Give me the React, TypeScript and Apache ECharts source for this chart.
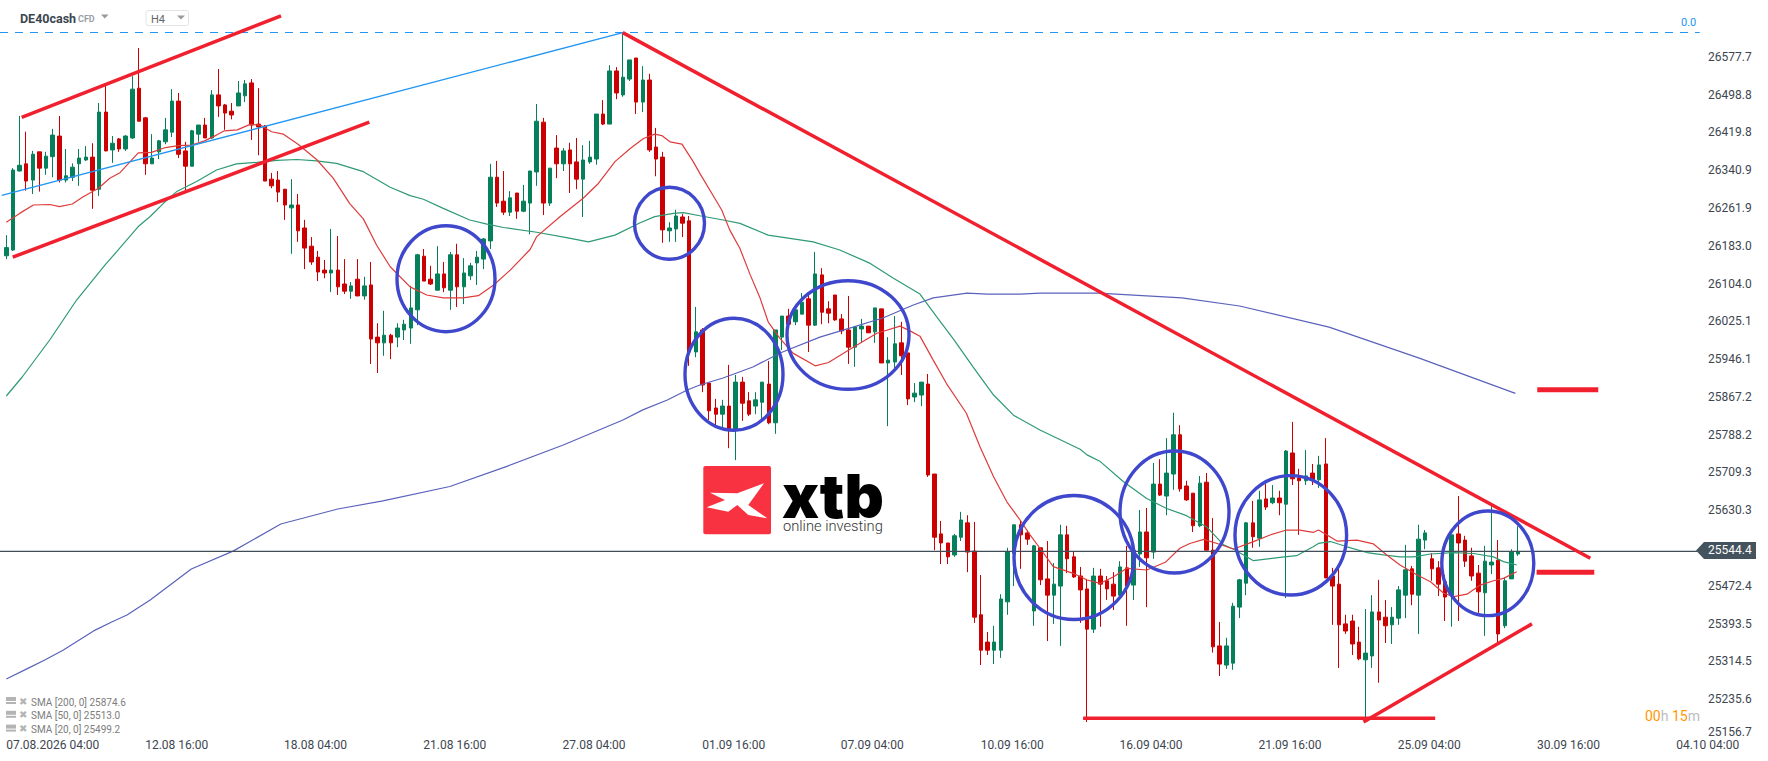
import React, { useEffect, useRef } from 'react';
import * as echarts from 'echarts';

// H4 candles, oldest first
const opens = [
  26162, 26174, 26339, 26354, 26320, 26379, 26345, 26369, 26412, 26320, 26326, 26354, 26362, 26368, 26301, 26462, 26383, 26406, 26385, 26408,
  26512, 26450, 26354, 26379, 26400, 26420, 26485, 26381, 26349, 26416, 26435, 26408, 26498, 26477, 26464, 26475, 26496, 26523, 26437, 26433,
  26322, 26320, 26301, 26262, 26268, 26220, 26182, 26159, 26132, 26126, 26132, 26103, 26088, 26113, 26078, 26101, 25992, 25980, 25996, 25992,
  26007, 26011, 26049, 26161, 26113, 26090, 26124, 26090, 26164, 26097, 26120, 26147, 26155, 26193, 26326, 26276, 26253, 26293, 26255, 26272,
  26337, 26441, 26272, 26387, 26354, 26383, 26358, 26322, 26358, 26364, 26458, 26437, 26548, 26498, 26531, 26575, 26483, 26529, 26389, 26368,
  26214, 26218, 26243, 26235, 25961, 26007, 25896, 25844, 25831, 25848, 25798, 25898, 25859, 25848, 25856, 25894, 25813, 25992, 26036, 26024,
  26040, 26072, 26017, 26122, 26051, 26080, 26030, 26007, 25971, 26009, 26015, 26003, 26051, 25938, 25940, 25980, 25959, 25867, 25871, 25894,
  25706, 25581, 25562, 25537, 25574, 25604, 25545, 25412, 25355, 25338, 25338, 25439, 25540, 25600, 25583, 25420, 25552, 25487, 25453, 25472,
  25579, 25533, 25493, 25466, 25382, 25493, 25483, 25476, 25453, 25510, 25474, 25539, 25585, 25543, 25685, 25660, 25706, 25788, 25681, 25666,
  25598, 25689, 25547, 25347, 25307, 25311, 25428, 25478, 25604, 25572, 25654, 25646, 25656, 25643, 25750, 25698, 25692, 25708, 25694, 25727,
  25493, 25476, 25393, 25399, 25355, 25318, 25326, 25418, 25407, 25391, 25405, 25453, 25508, 25453, 25568, 25529, 25510, 25481, 25453, 25581,
  25568, 25535, 25499, 25458, 25516, 25526, 25389, 25487, 25539,
];
const closes = [
  26179, 26341, 26351, 26318, 26374, 26345, 26370, 26414, 26320, 26329, 26347, 26366, 26368, 26299, 26462, 26381, 26397, 26385, 26412, 26510,
  26443, 26354, 26366, 26402, 26425, 26485, 26374, 26349, 26423, 26435, 26408, 26498, 26475, 26460, 26456, 26502, 26521, 26435, 26431, 26318,
  26308, 26295, 26268, 26268, 26214, 26178, 26149, 26128, 26126, 26132, 26097, 26088, 26099, 26078, 26099, 25988, 25980, 25996, 25980, 26011,
  26019, 26053, 26164, 26109, 26103, 26124, 26095, 26164, 26097, 26126, 26141, 26159, 26197, 26326, 26272, 26253, 26283, 26255, 26276, 26339,
  26443, 26272, 26345, 26354, 26381, 26354, 26322, 26362, 26368, 26458, 26437, 26548, 26502, 26535, 26571, 26483, 26529, 26383, 26364, 26216,
  26220, 26245, 26230, 25961, 26003, 25892, 25838, 25831, 25848, 25800, 25898, 25854, 25831, 25861, 25898, 25813, 26007, 26036, 26019, 26049,
  26065, 26017, 26124, 26044, 26042, 26028, 26005, 25971, 26013, 26015, 26001, 26053, 25938, 25944, 25978, 25953, 25863, 25875, 25898, 25704,
  25574, 25562, 25533, 25577, 25610, 25543, 25407, 25338, 25338, 25355, 25445, 25543, 25600, 25579, 25570, 25556, 25485, 25453, 25476, 25579,
  25529, 25491, 25464, 25382, 25493, 25476, 25466, 25451, 25512, 25472, 25547, 25585, 25531, 25685, 25662, 25708, 25788, 25675, 25652, 25598,
  25687, 25547, 25345, 25309, 25347, 25430, 25485, 25604, 25575, 25652, 25637, 25656, 25646, 25754, 25696, 25692, 25702, 25694, 25725, 25489,
  25472, 25391, 25378, 25351, 25320, 25332, 25418, 25401, 25389, 25407, 25464, 25506, 25455, 25570, 25583, 25508, 25476, 25449, 25579, 25562,
  25524, 25493, 25460, 25524, 25522, 25372, 25483, 25543, 25544.4,
];
const lows = [
  26155, 26172, 26338, 26298, 26291, 26296, 26331, 26326, 26315, 26315, 26318, 26308, 26360, 26260, 26287, 26380, 26356, 26379, 26381, 26406,
  26443, 26331, 26354, 26364, 26395, 26410, 26366, 26299, 26349, 26400, 26408, 26406, 26452, 26425, 26447, 26475, 26483, 26404, 26372, 26318,
  26303, 26274, 26237, 26166, 26191, 26134, 26143, 26109, 26115, 26086, 26080, 26082, 26072, 26078, 26070, 25936, 25917, 25953, 25946, 25971,
  25986, 25978, 26017, 26109, 26101, 26090, 26086, 26049, 26055, 26061, 26111, 26101, 26134, 26176, 26264, 26247, 26245, 26239, 26253, 26207,
  26308, 26247, 26266, 26324, 26339, 26293, 26301, 26243, 26354, 26352, 26435, 26437, 26489, 26494, 26527, 26458, 26462, 26379, 26328, 26189,
  26191, 26191, 26201, 25932, 25950, 25877, 25819, 25806, 25804, 25760, 25735, 25817, 25827, 25831, 25819, 25810, 25790, 25965, 26019, 26017,
  26040, 25961, 26015, 26019, 26021, 26026, 25998, 25936, 25930, 25980, 26001, 25980, 25938, 25806, 25921, 25913, 25850, 25856, 25848, 25700,
  25547, 25518, 25518, 25533, 25566, 25501, 25395, 25307, 25328, 25309, 25322, 25412, 25472, 25508, 25558, 25389, 25474, 25357, 25393, 25347,
  25499, 25489, 25395, 25188, 25374, 25387, 25443, 25422, 25451, 25389, 25443, 25512, 25428, 25529, 25660, 25620, 25673, 25669, 25650, 25585,
  25595, 25547, 25333, 25284, 25299, 25297, 25405, 25453, 25552, 25554, 25631, 25643, 25620, 25447, 25683, 25579, 25683, 25683, 25677, 25489,
  25391, 25301, 25372, 25328, 25317, 25188, 25301, 25270, 25353, 25351, 25391, 25405, 25432, 25372, 25549, 25483, 25451, 25399, 25387, 25399,
  25512, 25483, 25416, 25368, 25497, 25355, 25384, 25487, 25535,
];
const highs = [
  26205, 26345, 26454, 26421, 26381, 26379, 26379, 26427, 26454, 26385, 26355, 26385, 26391, 26397, 26481, 26519, 26412, 26408, 26414, 26537,
  26596, 26452, 26416, 26404, 26450, 26510, 26502, 26400, 26425, 26435, 26450, 26508, 26552, 26479, 26481, 26527, 26529, 26531, 26512, 26435,
  26335, 26339, 26301, 26322, 26291, 26237, 26201, 26172, 26153, 26218, 26203, 26155, 26107, 26155, 26118, 26149, 26021, 26047, 25999, 26021,
  26028, 26099, 26166, 26176, 26141, 26182, 26149, 26170, 26187, 26157, 26147, 26172, 26199, 26354, 26360, 26339, 26297, 26293, 26310, 26339,
  26479, 26450, 26345, 26414, 26387, 26398, 26408, 26393, 26402, 26458, 26487, 26560, 26556, 26628, 26571, 26575, 26558, 26542, 26429, 26379,
  26232, 26258, 26249, 26245, 26055, 26011, 25896, 25863, 25861, 25934, 25913, 25909, 25877, 25877, 25898, 25942, 26007, 26036, 26051, 26055,
  26084, 26082, 26170, 26136, 26067, 26080, 26040, 26078, 26015, 26030, 26015, 26053, 26051, 25992, 26036, 26024, 25959, 25896, 25898, 25915,
  25706, 25608, 25562, 25581, 25627, 25620, 25606, 25495, 25376, 25389, 25455, 25552, 25600, 25610, 25589, 25558, 25552, 25566, 25520, 25600,
  25598, 25545, 25512, 25487, 25510, 25508, 25493, 25501, 25524, 25556, 25547, 25631, 25635, 25729, 25737, 25781, 25834, 25808, 25692, 25666,
  25702, 25708, 25614, 25397, 25364, 25437, 25487, 25606, 25650, 25671, 25685, 25683, 25671, 25756, 25815, 25717, 25756, 25727, 25744, 25781,
  25510, 25508, 25412, 25412, 25387, 25424, 25453, 25485, 25443, 25428, 25472, 25558, 25514, 25600, 25589, 25541, 25524, 25495, 25579, 25660,
  25577, 25552, 25516, 25556, 25641, 25568, 25489, 25549, 25597,
];

// moving averages as [candle index, price]
const sma20 = [
  [0, 26232], [2.07, 26251], [4.08, 26268], [6.6, 26269], [8, 26264.5], [9.96, 26270], [11.6, 26285], [13.9, 26303], [15.6, 26324], [17.15, 26335.5],
  [19.9, 26377], [21.9, 26378], [24, 26388], [25.95, 26392], [27.96, 26393], [29.9, 26402], [31.7, 26414], [32.9, 26423], [34.85, 26425], [36.76, 26436.5],
  [38.3, 26435], [40, 26421], [41.8, 26416], [44, 26395], [46.8, 26363], [49.3, 26324], [51.8, 26271], [53.85, 26239], [55.86, 26184], [57.9, 26139],
  [60.9, 26097], [63.4, 26080], [65.9, 26074], [68.9, 26074], [71.2, 26078.6], [73.5, 26101], [76, 26132], [79, 26175], [80, 26202], [83.5, 26243.6],
  [87, 26282], [89.3, 26313], [91.8, 26358.5], [94.1, 26386], [96.1, 26407], [97.8, 26416], [98.85, 26413], [100.1, 26400], [101.9, 26395], [103.6, 26358.5],
  [104.6, 26334], [107.9, 26257.5], [109.1, 26216], [110.65, 26177], [112.2, 26122], [113.7, 26073], [114.9, 26024], [116.7, 25989], [118.7, 25958], [122, 25932],
  [124, 25939], [126.7, 25962], [128.75, 25979], [131.3, 26000], [134.8, 26015], [136.3, 26005], [137.8, 25994], [139.8, 25944], [141.8, 25895], [144.8, 25833],
  [146.85, 25763], [148.9, 25700.5], [150.9, 25648], [152.9, 25610], [154.4, 25579], [155.9, 25551], [157.9, 25512.5], [160.9, 25498.6], [163, 25484.7], [165, 25477.7],
  [167, 25491.6], [169, 25509], [172, 25505.5], [174.8, 25521.6], [177, 25551], [178.5, 25561], [180.6, 25569.6], [182.6, 25561], [185.1, 25549.4], [188.1, 25564.7],
  [190.6, 25578.7], [193.1, 25589], [195.1, 25589], [197.1, 25584], [197.9, 25589], [199.2, 25578.7], [200.7, 25566], [203.7, 25568], [206.2, 25560], [208.2, 25537],
  [210.2, 25516], [212.8, 25495], [214.8, 25481], [216.8, 25457], [218.3, 25450], [220.3, 25455], [222.3, 25474], [224.3, 25483], [225.8, 25488], [227.8, 25502],
];
const sma50 = [
  [0, 25869], [2.4, 25908.7], [6.6, 25987], [10.6, 26069.5], [14.9, 26143], [16.65, 26170.5], [19.9, 26223], [21.7, 26244], [23.7, 26271.5], [25.7, 26296],
  [28.7, 26317], [31.7, 26341], [34.7, 26354], [37.8, 26357], [40.8, 26361], [43.8, 26363], [46.8, 26360], [49.8, 26355], [53.85, 26337.6], [57.9, 26305],
  [60.9, 26287.5], [62.9, 26280], [65.9, 26261], [69.9, 26236.6], [72.5, 26228], [75, 26221], [80, 26211], [84.5, 26200], [87.8, 26191], [91.8, 26205],
  [95.6, 26231], [97.8, 26243.6], [100.6, 26250.5], [102.1, 26252], [104.6, 26245.5], [108.1, 26236.6], [110.65, 26229.6], [114.9, 26205], [121.7, 26191], [125.7, 26174],
  [130.3, 26146], [133.8, 26115], [137.8, 26082], [140.3, 26035], [142.8, 25989], [145.8, 25930], [148.9, 25871], [151.9, 25829], [155.9, 25798], [161.95, 25757.6],
  [163, 25746], [165, 25732], [168.5, 25690], [172, 25655], [175, 25634], [178, 25619], [181, 25596], [183.6, 25558], [185.1, 25549], [188.1, 25525],
  [192.1, 25532], [194.6, 25535.5], [197.1, 25554], [197.9, 25561], [199.7, 25565], [202.2, 25554], [205.2, 25542], [207.7, 25537], [210.2, 25533], [212.3, 25533],
  [214.8, 25539], [218.3, 25542], [221.3, 25540], [224.3, 25533], [225.8, 25523], [227.8, 25516],
];
const sma200 = [
  [0, 25278], [3.1, 25299], [5.8, 25317.5], [8.55, 25338], [13.4, 25380], [15.9, 25397], [18.2, 25411.5], [21.7, 25443], [27.9, 25507.6], [34.2, 25545],
  [41.4, 25601.6], [50, 25633], [56.8, 25650], [66.9, 25680], [75.5, 25722], [84, 25766.6], [93, 25819], [96, 25840], [99.7, 25860.6], [102.7, 25881.5],
  [104.6, 25892], [108.1, 25906.6], [112.6, 25929.6], [116.7, 25958.8], [122.7, 25992], [127.7, 26013], [132.2, 26032], [136.8, 26059], [139.8, 26074], [144.9, 26084],
  [147.9, 26082], [152.9, 26082], [155.9, 26084], [164.7, 26084], [177.3, 26074], [186, 26057], [199.5, 26013], [213.1, 25948], [227.6, 25874.6],
];

// hand drawn lines from the platform, ends as [candle index, price]
const redLines = [
  [[2.32, 26451], [41.43, 26663]],
  [[0.97, 26159], [54.75, 26441]],
  [[92.97, 26628], [238.9, 25530]],
  [[204.7, 25188], [230.1, 25393]],
  [[162.4, 25196], [215.5, 25196]],
];
const targetLines = [
  [[230.9, 25882], [240.1, 25882]],
  [[230.8, 25501], [239.5, 25501]],
];
const fibLine = [[-0.69, 26288], [92.97, 26628]];
const fibLevel = 26628.3;
const lastPrice = 25544.4;
const minPrice = 25156.7;

const priceTicks = [
  26577.7, 26498.8, 26419.8, 26340.9, 26261.9, 26183.0, 26104.0, 26025.1, 25946.1, 25867.2,
  25788.2, 25709.3, 25630.3, 25472.4, 25393.5, 25314.5, 25235.6, minPrice,
];
const timeTicks = [7, 25.7, 46.65, 67.65, 88.65, 109.7, 130.6, 151.7, 172.65, 193.6, 214.6, 235.6, 256.6];
const timeLabels = [
  '07.08.2026 04:00', '12.08 16:00', '18.08 04:00', '21.08 16:00', '27.08 04:00', '01.09 16:00', '07.09 04:00',
  '10.09 16:00', '16.09 04:00', '21.09 16:00', '25.09 04:00', '30.09 16:00', '04.10 04:00',
];
const smaLegend = ['SMA [200, 0] 25874.6', 'SMA [50, 0] 25513.0', 'SMA [20, 0] 25499.2'];

// analyst circles, pixels on the picture: cx, cy, rx, ry
const circles = [
  [446, 278.7, 49, 53],
  [669.5, 223.3, 35, 36],
  [734, 374.2, 49, 56],
  [848, 335, 61, 54.3],
  [1074, 557.5, 60, 62],
  [1174.5, 512, 54.5, 61],
  [1290.8, 535.3, 55.8, 59.7],
  [1487.8, 563.3, 46, 52.3],
];

const GREEN = '#05805A';
const RED = '#CC0000';
const DRAW_RED = '#F0202F';
const CIRCLE = '#3F48CC';
const FIB = '#2196F3';
const FONT = 'Roboto';

const X_MIN = -0.95;
const X_MAX = 265.7;
const X_END = 255.4;

const drawnLine = (data: number[][], color: string, width: number, z: number, type: any = 'solid') => ({
  type: 'line',
  data,
  showSymbol: false,
  silent: true,
  z,
  lineStyle: { color, width, type, cap: 'butt' },
});

const App: React.FC = () => {
  const ref = useRef<HTMLDivElement>(null);

  useEffect(() => {
    if (!ref.current) return;
    document.body.style.margin = '0';

    const chart = echarts.init(ref.current, undefined, { renderer: 'svg' });

    const legendItems: any[] = [];
    smaLegend.forEach((text, i) => {
      const y = 702 + i * 13.8;
      legendItems.push(
        { type: 'rect', shape: { x: 6, y: y - 5, width: 10, height: 4 }, style: { fill: '#b4b4b4' } },
        { type: 'rect', shape: { x: 6, y: y, width: 10, height: 2 }, style: { fill: '#b4b4b4' } },
        { type: 'text', x: 19, y: y - 6, style: { text: '✖', fill: '#b4b4b4', font: `10px "DejaVu Sans"` } },
        { type: 'text', x: 31, y: y - 5, style: { text, fill: '#7d7d7d', font: `10px ${FONT}` } }
      );
    });

    chart.setOption({
      animation: false,
      backgroundColor: '#ffffff',
      textStyle: { fontFamily: FONT },
      grid: { left: 0, right: 0, top: 0, height: 737 },
      xAxis: {
        type: 'value',
        min: X_MIN,
        max: X_MAX,
        splitLine: { show: false },
        axisLine: { show: false },
        axisTick: { show: false },
        axisLabel: {
          margin: 2,
          fontSize: 12,
          color: '#3d4650',
          customValues: timeTicks,
          showMinLabel: true,
          showMaxLabel: true,
          formatter: (v: number) => timeLabels[timeTicks.indexOf(v)] ?? '',
        },
      },
      yAxis: {
        type: 'value',
        position: 'right',
        offset: -60,
        min: minPrice,
        max: 26696.2,
        splitLine: { show: false },
        axisLine: { show: false },
        axisTick: { show: false },
        axisLabel: {
          margin: 0,
          fontSize: 12,
          color: '#3d4650',
          customValues: priceTicks,
          lineHeight: 12,
          // lowest tick sits just above the time axis
          formatter: (v: number) => (v === minPrice ? `{low|${v.toFixed(1)}}` : v.toFixed(1)),
          rich: { low: { fontSize: 12, color: '#3d4650', lineHeight: 12, padding: [0, 0, 11, 0] } },
        },
      },
      series: [
        {
          type: 'candlestick',
          barWidth: 4,
          z: 3,
          silent: true,
          itemStyle: { color: GREEN, color0: RED, borderColor: GREEN, borderColor0: RED, borderWidth: 1 },
          data: opens.map((o, i) => [i, o, closes[i], lows[i], highs[i]]),
        },
        drawnLine(sma200, '#5A62BC', 1.2, 4),
        drawnLine(sma50, '#2E9A74', 1.2, 4),
        drawnLine(sma20, '#DE3B3B', 1.2, 4),
        drawnLine([[X_MIN, lastPrice], [X_END - 0.4, lastPrice]], '#3F4E59', 1.2, 5),
        drawnLine([[X_MIN, fibLevel], [X_END, fibLevel]], FIB, 1.2, 5, [8, 7]),
        drawnLine(fibLine, FIB, 1.3, 5),
        ...redLines.map((l) => drawnLine(l, DRAW_RED, 3.5, 6)),
        ...targetLines.map((l) => drawnLine(l, DRAW_RED, 5, 6)),
      ],
      graphic: [
        ...circles.map(([cx, cy, rx, ry]) => ({
          type: 'ellipse',
          z: 20,
          shape: { cx, cy, rx, ry },
          style: { fill: 'none', stroke: CIRCLE, lineWidth: 3.4 },
        })),
        // logo
        { type: 'rect', z: 20, shape: { x: 703.3, y: 466, width: 67.7, height: 68.3, r: 2 }, style: { fill: '#F93242' } },
        {
          type: 'polygon',
          z: 21,
          shape: {
            points: [
              [710, 492.7], [737.3, 493.3], [764, 483.3], [748.3, 505], [767.3, 518.3], [748.3, 515],
              [737.3, 505], [728.3, 511.7], [706.7, 507.3], [725, 500],
            ],
          },
          style: { fill: '#ffffff' },
        },
        { type: 'text', z: 21, x: 782, y: 475, style: { text: 'xtb', fill: '#000000', font: `900 61px Inter`, lineHeight: 41 } },
        { type: 'text', z: 21, x: 783, y: 518, style: { text: 'online investing', fill: '#333333', font: `300 14.7px ${FONT}` } },
        // header
        { type: 'text', x: 20, y: 12, style: { text: 'DE40cash', fill: '#3b4650', font: `bold 12.5px ${FONT}` } },
        { type: 'text', x: 78, y: 14.5, style: { text: 'CFD', fill: '#9aa0a6', font: `bold 9px ${FONT}` } },
        { type: 'polygon', shape: { points: [[101, 14.5], [108.5, 14.5], [104.8, 18.5]] }, style: { fill: '#9a9a9a' } },
        { type: 'rect', shape: { x: 146, y: 10.5, width: 42.5, height: 15, r: 2 }, style: { fill: '#ffffff', stroke: '#e4e4e4', lineWidth: 1 } },
        { type: 'text', x: 151, y: 14, style: { text: 'H4', fill: '#666666', font: `11px ${FONT}` } },
        { type: 'polygon', shape: { points: [[177, 15.5], [185, 15.5], [181, 19.5]] }, style: { fill: '#9a9a9a' } },
        // fib label
        { type: 'text', x: 1681, y: 17, style: { text: '0.0', fill: FIB, font: `11px ${FONT}` } },
        // price tag
        { type: 'polygon', z: 22, shape: { points: [[1696, 550.5], [1704, 542], [1756, 542], [1756, 559], [1704, 559]] }, style: { fill: '#44535E' } },
        { type: 'text', z: 23, x: 1708, y: 544, style: { text: lastPrice.toFixed(1), fill: '#ffffff', font: `12px ${FONT}` } },
        // candle countdown
        {
          type: 'text',
          x: 1645,
          y: 709,
          style: {
            text: '{a|00}{b|h} {a|15}{b|m}',
            font: `14px ${FONT}`,
            rich: { a: { fill: '#FF9800', font: `14px ${FONT}` }, b: { fill: '#bdbdbd', font: `14px ${FONT}` } },
          },
        },
        ...legendItems,
      ],
    });

    return () => {
      chart.dispose();
    };
  }, []);

  return <div ref={ref} style={{ width: 1768, height: 761 }} />;
};

export default App;
